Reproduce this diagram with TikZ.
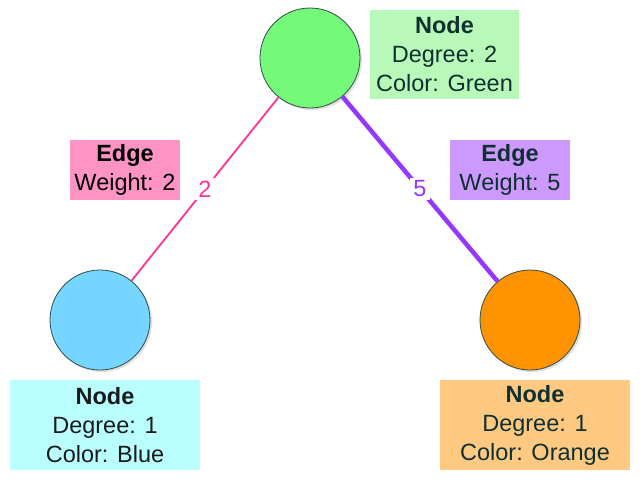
\documentclass[tikz,border=0pt]{standalone}
\usepackage{fontspec}
\setmainfont{Liberation Sans}
\usetikzlibrary{shadows}
\definecolor{greenfill}{HTML}{75F979}
\definecolor{greenbox}{HTML}{B8F9BA}
\definecolor{bluefill}{HTML}{76D6FF}
\definecolor{bluebox}{HTML}{BAFFFF}
\definecolor{orangefill}{HTML}{FF9300}
\definecolor{orangebox}{HTML}{FFC981}
\definecolor{pinkbox}{HTML}{FF94C4}
\definecolor{pinkline}{HTML}{FF3399}
\definecolor{purplebox}{HTML}{CC99FF}
\definecolor{purpleline}{HTML}{9437FF}
\definecolor{rimcol}{HTML}{2E4D4D}
\definecolor{tealtext}{HTML}{0F3030}
\definecolor{darktext}{HTML}{1A1A1A}
\begin{document}
\begin{tikzpicture}[x=1pt,y=-1pt,
  vertex/.style={circle, draw=rimcol, line width=0.8pt, minimum size=100pt, inner sep=0pt,
    drop shadow={shadow xshift=2pt, shadow yshift=-2pt, opacity=0.25}},
  infobox/.style={rectangle, inner sep=0pt, align=center, text=tealtext,
    font=\fontsize{23.5}{29}\selectfont},
  weightlabel/.style={fill=white, inner sep=3pt, font=\fontsize{23.5}{27}\selectfont}
]
\useasboundingbox[fill=white] (0,0) rectangle (640,480);

\node[vertex, fill=greenfill] (g) at (310,58) {};
\node[vertex, fill=bluefill] (b) at (100,320) {};
\node[vertex, fill=orangefill] (o) at (530,320) {};

\draw[pinkline, line width=1.8pt] (g) -- node[weightlabel, text=pinkline] (w2) {2} (b);
\draw[purpleline, line width=4.5pt] (g) -- node[weightlabel, text=purpleline] (w5) {5} (o);

\node[infobox, fill=greenbox, minimum width=149pt, minimum height=89pt] (gl) at (444.5,54.5)
  {\textbf{Node}\\Degree: 2\\Color: Green};
\node[infobox, fill=bluebox, text=darktext, minimum width=190pt, minimum height=90pt] (bl) at (105,425)
  {\textbf{Node}\\Degree: 1\\Color: Blue};
\node[infobox, fill=orangebox, minimum width=190pt, minimum height=90pt] (ol) at (535,425)
  {\textbf{Node}\\Degree: 1\\Color: Orange};
\node[infobox, fill=pinkbox, text=black, minimum width=110pt, minimum height=60pt] (pl) at (125,170)
  {\textbf{Edge}\\Weight: 2};
\node[infobox, fill=purplebox, minimum width=120pt, minimum height=60pt] (ul) at (510,170)
  {\textbf{Edge}\\Weight: 5};
\end{tikzpicture}
\end{document}
